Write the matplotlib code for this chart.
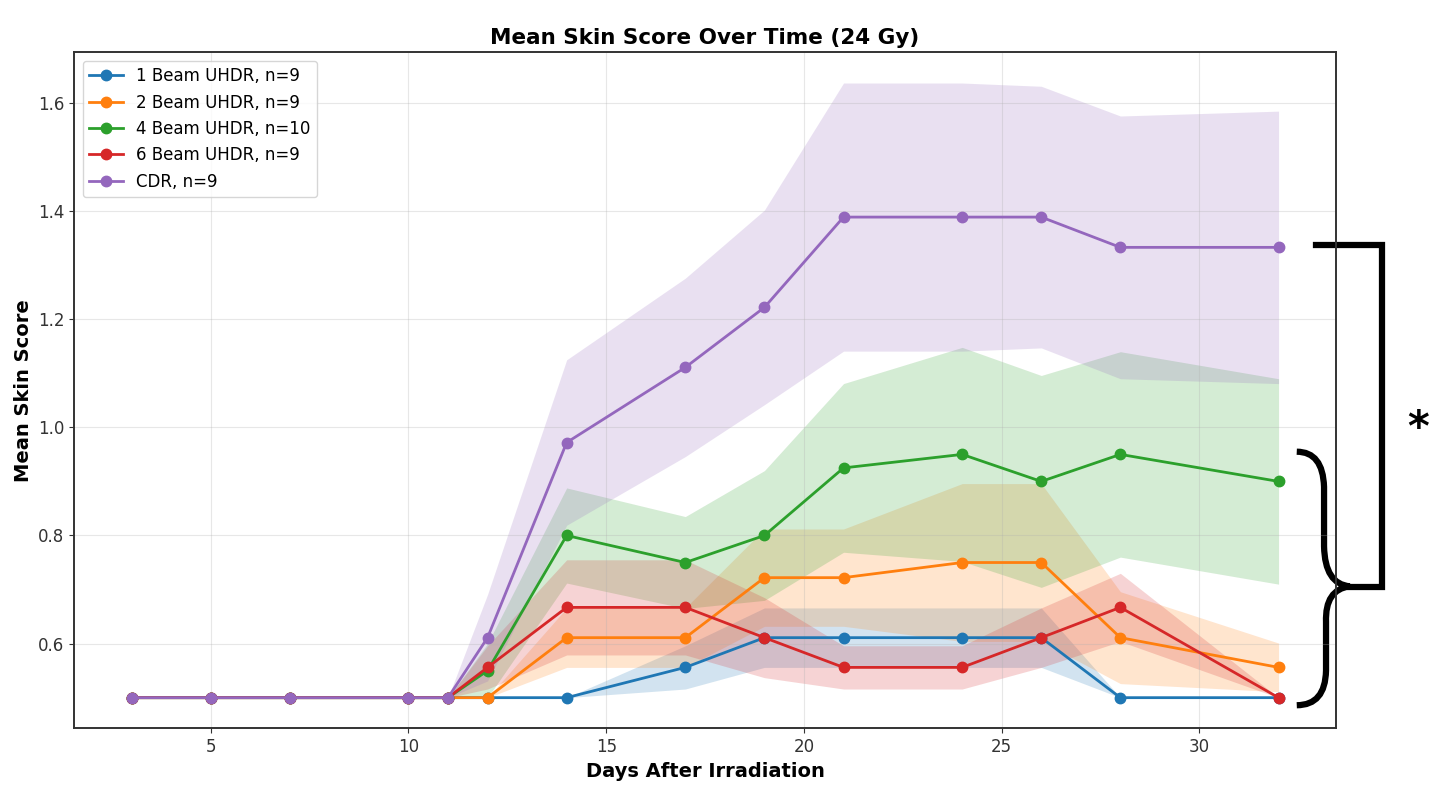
import matplotlib
matplotlib.use("Agg")
import matplotlib.pyplot as plt
from matplotlib.path import Path
from matplotlib.patches import PathPatch

# dias e médias
days = [3, 5, 7, 10, 11, 12, 14, 17, 19, 21, 24, 26, 28, 32]

beam1 = [0.5, 0.5, 0.5, 0.5, 0.5, 0.5, 0.5, 0.556, 0.611, 0.611, 0.611, 0.611, 0.5, 0.5]
beam1_err = [0, 0, 0, 0, 0, 0, 0, 0.04, 0.055, 0.055, 0.055, 0.055, 0, 0]

beam2 = [0.5, 0.5, 0.5, 0.5, 0.5, 0.5, 0.611, 0.611, 0.722, 0.722, 0.75, 0.75, 0.611, 0.556]
beam2_err = [0, 0, 0, 0, 0, 0, 0.055, 0.055, 0.09, 0.09, 0.146, 0.146, 0.085, 0.045]

beam4 = [0.5, 0.5, 0.5, 0.5, 0.5, 0.55, 0.8, 0.75, 0.8, 0.925, 0.95, 0.9, 0.95, 0.9]
beam4_err = [0, 0, 0, 0, 0, 0.05, 0.088, 0.085, 0.12, 0.156, 0.198, 0.196, 0.19, 0.19]

beam6 = [0.5, 0.5, 0.5, 0.5, 0.5, 0.556, 0.667, 0.667, 0.611, 0.556, 0.556, 0.611, 0.667, 0.5]
beam6_err = [0, 0, 0, 0, 0, 0.04, 0.088, 0.088, 0.074, 0.04, 0.04, 0.055, 0.063, 0]

cdr = [0.5, 0.5, 0.5, 0.5, 0.5, 0.611, 0.972, 1.111, 1.222, 1.389, 1.389, 1.389, 1.333, 1.333]
cdr_err = [0, 0, 0, 0, 0, 0.08, 0.153, 0.165, 0.18, 0.248, 0.248, 0.242, 0.243, 0.252]

labels = ["1 Beam UHDR, n=9", "2 Beam UHDR, n=9", "4 Beam UHDR, n=10",
          "6 Beam UHDR, n=9", "CDR, n=9"]
colors = ["tab:blue", "tab:orange", "tab:green", "tab:red", "tab:purple"]
series = [(beam1, beam1_err), (beam2, beam2_err), (beam4, beam4_err),
          (beam6, beam6_err), (cdr, cdr_err)]

fig = plt.figure(figsize=(14.34, 8.07), dpi=100)
ax = fig.add_axes([0.0518, 0.0973, 0.8798, 0.838])

for (m, e), lab, c in zip(series, labels, colors):
    lo = [a - b for a, b in zip(m, e)]
    hi = [a + b for a, b in zip(m, e)]
    ax.plot(days, m, marker='o', markersize=7.5, linewidth=2, color=c, label=lab)
    ax.fill_between(days, lo, hi, color=c, alpha=0.2, linewidth=0)

ax.set_xlim(1.55, 33.45)
ax.set_ylim(0.443, 1.694)
ax.set_yticks([0.6, 0.8, 1.0, 1.2, 1.4, 1.6])
ax.grid(True, alpha=0.3)
ax.tick_params(labelsize=12, colors='#333333')
for s in ax.spines.values():
    s.set_linewidth(1.4)
    s.set_color('#333333')

ax.set_title("Mean Skin Score Over Time (24 Gy)", fontsize=15.5, fontweight='bold')
ax.set_xlabel("Days After Irradiation", fontsize=14, fontweight='bold')
ax.set_ylabel("Mean Skin Score", fontsize=14, fontweight='bold')
ax.legend(loc='upper left', fontsize=12)

# colchete e chave à direita (anotação de significância)
ax.plot([32.95, 34.62, 34.62, 33.80], [1.337, 1.337, 0.705, 0.705],
        color='black', linewidth=4.5, clip_on=False, solid_joinstyle='miter')

verts = [(32.46, 0.955), (33.12, 0.955), (33.15, 0.89),
         (33.15, 0.78),
         (33.17, 0.71), (33.80, 0.706),
         (33.17, 0.70), (33.20, 0.64),
         (33.20, 0.55),
         (33.18, 0.486), (32.46, 0.486)]
codes = [Path.MOVETO, Path.CURVE3, Path.CURVE3,
         Path.LINETO,
         Path.CURVE3, Path.CURVE3,
         Path.CURVE3, Path.CURVE3,
         Path.LINETO,
         Path.CURVE3, Path.CURVE3]
brace = PathPatch(Path(verts, codes), facecolor='none', edgecolor='black',
                  linewidth=4.5, clip_on=False, transform=ax.transData)
ax.add_patch(brace)

ax.text(35.52, 0.975, "*", fontsize=30, fontweight='bold', ha='center',
        va='baseline', clip_on=False)

fig.savefig("out.png", dpi=100)
